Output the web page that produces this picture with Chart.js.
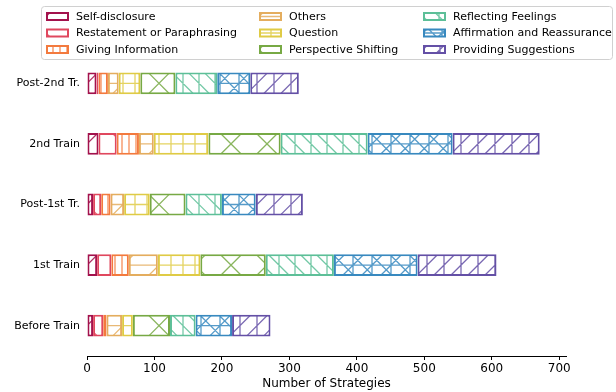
<!DOCTYPE html>
<html>
<head>
<meta charset="utf-8">
<script src="https://cdn.jsdelivr.net/npm/chart.js@4.4.0/dist/chart.umd.min.js"></script>
<style>
  html, body { margin: 0; padding: 0; background: #fff; }
  #wrap { width: 616px; height: 392px; position: relative; }
</style>
</head>
<body>
<div id="wrap"><canvas id="chart"></canvas></div>
<script>
// rows, bottom to top as in the figure
const stages = ['Before Train', '1st Train', 'Post-1st Tr.', '2nd Train', 'Post-2nd Tr.'];

const strategyNames = [
  'Self-disclosure', 'Restatement or Paraphrasing', 'Giving Information',
  'Others', 'Question', 'Perspective Shifting',
  'Reflecting Feelings', 'Affirmation and Reassurance', 'Providing Suggestions'
];

// counts per stage (same order as stages)
const selfDisclosure = [9, 15, 9, 17, 14];
const restatement    = [15, 21, 12, 27, 3];
const givingInfo     = [5, 26, 14, 33, 14];
const others         = [23, 43, 20, 22, 16];
const question       = [16, 63, 38, 81, 32];
const perspective    = [55, 97, 53, 107, 52];
const reflecting     = [38, 101, 54, 129, 62];
const affirmation    = [54, 124, 50, 126, 49];
const suggestions    = [57, 117, 70, 129, 72];

const xTicks = [0, 100, 200, 300, 400, 500, 600, 700];

const seriesValues = [selfDisclosure, restatement, givingInfo, others, question,
                      perspective, reflecting, affirmation, suggestions];

const colors = ['#a3124c', '#e0485e', '#f37a3e', '#e4ad5e', '#dfcb45',
                '#77a944', '#5dbf98', '#3889bf', '#6450a6'];

// hatch line families: [kind, spacing, phase]
const hatches = [
  [['/', 36, 0]],
  [['\\', 36, 0]],
  [['|', 7, 0]],
  [['/', 36, 0], ['-', 30, 0]],
  [['|', 12, 0], ['-', 30, 0]],
  [['/', 36, 0], ['\\', 36, 0]],
  [['|', 16, 0], ['\\', 16, 0]],
  [['/', 19, 0], ['\\', 19, 9.5], ['|', 19, 0], ['-', 30, 0]],
  [['/', 17, 0], ['|', 17, 0]]
];

const FONT = "'DejaVu Sans', sans-serif";

function drawHatch(ctx, left, top, right, bottom, x0, yc, spec, color) {
  ctx.save();
  ctx.beginPath();
  ctx.rect(left, top, right - left, bottom - top);
  ctx.clip();
  ctx.strokeStyle = color;
  ctx.globalAlpha = 0.85;
  ctx.lineWidth = 1.3;
  ctx.beginPath();
  const vt = top - yc, vb = bottom - yc;
  spec.forEach(([kind, s, ph]) => {
    if (kind === '|') {
      let k = Math.floor((left - x0 - ph) / s);
      for (let x = x0 + ph + k * s; x <= right; x += s) {
        ctx.moveTo(x, top); ctx.lineTo(x, bottom);
      }
    } else if (kind === '-') {
      let k = Math.floor((top - yc - ph) / s);
      for (let y = yc + ph + k * s; y <= bottom; y += s) {
        ctx.moveTo(left, y); ctx.lineTo(right, y);
      }
    } else if (kind === '/') {
      // u + v = c
      const cmin = (left - x0) + vt, cmax = (right - x0) + vb;
      let k = Math.floor((cmin - ph) / s);
      for (let c = ph + k * s; c <= cmax; c += s) {
        ctx.moveTo(x0 + c - vb, bottom); ctx.lineTo(x0 + c - vt, top);
      }
    } else if (kind === '\\') {
      // u - v = c
      const cmin = (left - x0) - vb, cmax = (right - x0) - vt;
      let k = Math.floor((cmin - ph) / s);
      for (let c = ph + k * s; c <= cmax; c += s) {
        ctx.moveTo(x0 + c + vt, top); ctx.lineTo(x0 + c + vb, bottom);
      }
    }
  });
  ctx.stroke();
  ctx.restore();
}

const hatchPlugin = {
  id: 'hatch',
  afterDatasetsDraw(chart) {
    const ctx = chart.ctx;
    const x0 = chart.chartArea.left;
    chart.data.datasets.forEach((ds, i) => {
      const meta = chart.getDatasetMeta(i);
      meta.data.forEach(bar => {
        const p = bar.getProps(['x', 'y', 'base', 'height'], true);
        const l = Math.min(p.x, p.base) + 1, r = Math.max(p.x, p.base) - 1;
        const t = p.y - p.height / 2 + 1, b = p.y + p.height / 2 - 1;
        if (r > l) drawHatch(ctx, l, t, r, b, x0, p.y, hatches[i], colors[i]);
      });
    });
  }
};

// matplotlib-style legend, 3 columns filled column by column
const legendPlugin = {
  id: 'mplLegend',
  afterDraw(chart) {
    const ctx = chart.ctx;
    ctx.save();
    const bx = 41.5, by = 6.5, bw = 571, bh = 53, rad = 3;
    ctx.beginPath();
    ctx.moveTo(bx + rad, by);
    ctx.arcTo(bx + bw, by, bx + bw, by + bh, rad);
    ctx.arcTo(bx + bw, by + bh, bx, by + bh, rad);
    ctx.arcTo(bx, by + bh, bx, by, rad);
    ctx.arcTo(bx, by, bx + bw, by, rad);
    ctx.closePath();
    ctx.fillStyle = 'rgba(255,255,255,0.8)';
    ctx.fill();
    ctx.strokeStyle = '#d0d0d0';
    ctx.lineWidth = 1;
    ctx.stroke();

    const colX = [46, 259, 423];
    const rowY = [16.5, 33, 49.5];
    ctx.font = '11px ' + FONT;
    ctx.textBaseline = 'middle';
    strategyNames.forEach((name, i) => {
      const col = Math.floor(i / 3), row = i % 3;
      const px = colX[col], py = rowY[row];
      const w = 23, h = 9;
      ctx.fillStyle = '#fff';
      ctx.fillRect(px, py - h / 2, w, h);
      drawHatch(ctx, px + 1, py - h / 2 + 1, px + w - 1, py + h / 2 - 1, px, py, hatches[i], colors[i]);
      ctx.strokeStyle = colors[i];
      ctx.lineWidth = 2;
      ctx.strokeRect(px + 1, py - h / 2 + 1, w - 2, h - 2);
      ctx.fillStyle = '#000';
      ctx.fillText(name, px + 30, py + 0.5);
    });
    ctx.restore();
  }
};

const datasets = strategyNames.map((name, i) => ({
  label: name,
  data: seriesValues[i],
  backgroundColor: '#ffffff',
  borderColor: colors[i],
  borderWidth: 2,
  borderSkipped: false,
  inflateAmount: 0,
  categoryPercentage: 1.0,
  barPercentage: 0.36
}));

new Chart(document.getElementById('chart'), {
  type: 'bar',
  data: { labels: stages, datasets: datasets },
  options: {
    indexAxis: 'y',
    responsive: true,
    maintainAspectRatio: false,
    devicePixelRatio: 1,
    animation: false,
    layout: { padding: { top: 53, right: 50, left: 0, bottom: 0 } },
    plugins: { legend: { display: false }, tooltip: { enabled: false } },
    scales: {
      x: {
        stacked: true,
        min: 0,
        max: 710,
        afterFit: s => { s.height = 36; },
        afterBuildTicks: s => { s.ticks = xTicks.map(v => ({ value: v })); },
        grid: { display: true, drawOnChartArea: false, drawTicks: true, tickLength: 4, color: '#000' },
        border: { display: true, color: '#000', width: 1 },
        ticks: { color: '#000', font: { family: FONT, size: 12 }, padding: 2, maxRotation: 0 },
        title: { display: true, text: 'Number of Strategies', color: '#000',
                 font: { family: FONT, size: 12 }, padding: { top: 0, bottom: 1 } }
      },
      y: {
        stacked: true,
        reverse: true,
        afterFit: s => { s.width = 87; },
        grid: { display: false, drawTicks: false },
        border: { display: false },
        ticks: { color: '#000', font: { family: FONT, size: 11 }, padding: 7 }
      }
    }
  },
  plugins: [hatchPlugin, legendPlugin]
});
</script>
</body>
</html>
